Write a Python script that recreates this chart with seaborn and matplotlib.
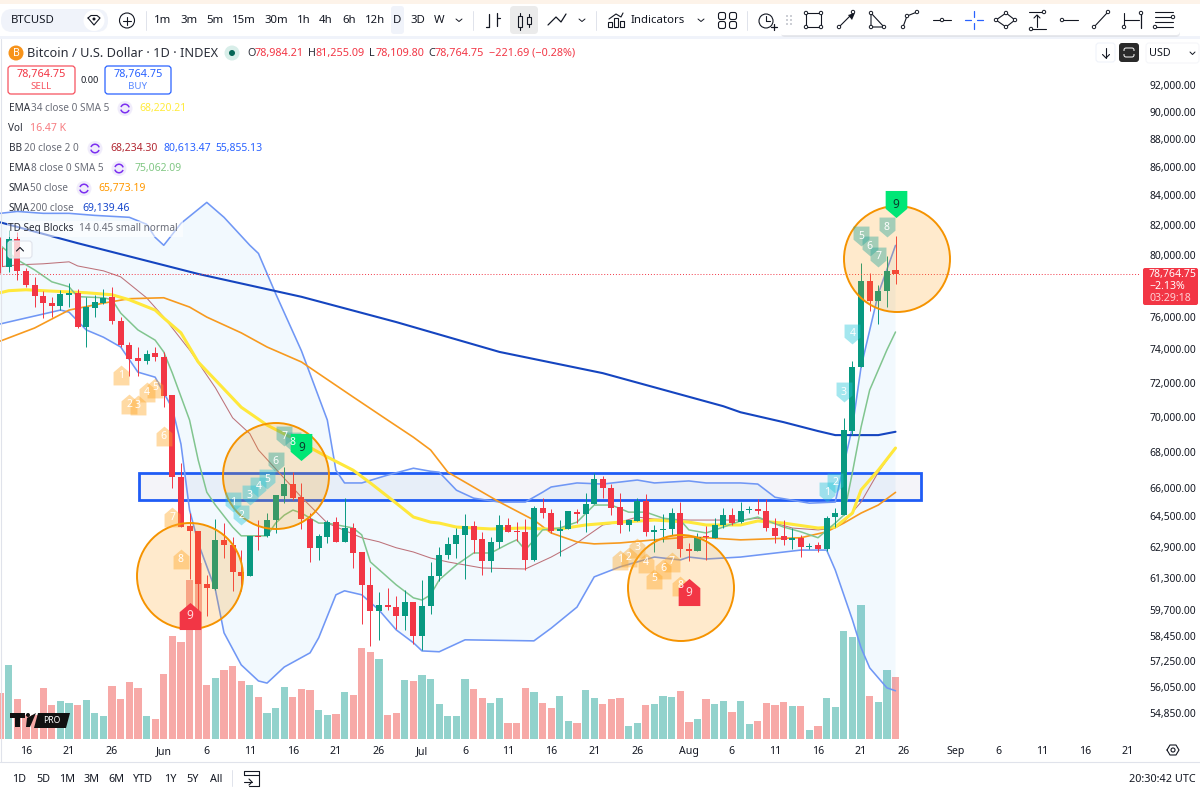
import numpy as np
import pandas as pd
import matplotlib
matplotlib.use("Agg")
import matplotlib.pyplot as plt
import seaborn as sns
from matplotlib.markers import MarkerStyle
from matplotlib.patches import Arc, Circle, FancyBboxPatch, Rectangle
from matplotlib.path import Path
from matplotlib.ticker import NullLocator

# --- candles, day 0 = May 16 ---
first_day = -3
opens = [80440, 79200, 81020, 78930, 78040, 77340, 76870, 76680, 77400, 77530, 75380, 76550, 76870, 77280, 75750,
         74260, 73470, 73290, 73780, 73530, 71270, 66600, 63970, 63720, 61000, 60750, 63250, 62990, 61600, 61400,
         63460, 63460, 64290, 65570, 66225, 65510, 64340, 62820, 63400, 64180, 63140, 63870, 62620, 60950, 59650,
         59940, 59840, 59410, 60090, 58440, 59890, 61400, 62470, 63040, 63510, 63970, 63300, 62160, 63140, 64030,
         63720, 63670, 62210, 64930, 64660, 63720, 63820, 64710, 64610, 65140, 66495, 66015, 64980, 64030, 64240,
         65300, 63670, 63770, 63820, 64660, 62770, 62670, 63460, 63350, 64030, 64550, 64180, 64840, 64870, 64770,
         63870, 63460, 63250, 63360, 62870, 62990, 62770, 64450, 64550, 69180, 72930, 78300, 76990, 77660, 78984.21]
closes = [79200, 81020, 78930, 78040, 77340, 76870, 76680, 77470, 77530, 75380, 76620, 76930, 77210, 75750, 74260,
          73410, 73290, 73720, 73530, 71210, 66600, 63920, 63720, 61000, 60800, 63250, 62990, 61600, 61400, 63460,
          63400, 64290, 65620, 66225, 65460, 64340, 62820, 63460, 64180, 63140, 63870, 62560, 60950, 59650, 59940,
          59840, 59410, 60090, 58440, 59890, 61400, 62470, 63040, 63510, 63970, 63250, 62160, 63140, 64030, 63670,
          63670, 62210, 64930, 64660, 63720, 63820, 64770, 64610, 65140, 66495, 66015, 64930, 64030, 64290, 65300,
          63670, 63770, 63820, 64660, 62770, 62670, 63400, 63400, 64030, 64550, 64130, 64770, 64870, 64770, 63870,
          63460, 63250, 63360, 62870, 62930, 62770, 64390, 64660, 69240, 72930, 78300, 76990, 77660, 78930, 78764.75]
highs = [81150, 81630, 81480, 79130, 78550, 77660, 77280, 77720, 78170, 77780, 77280, 77400, 77780, 77910, 75990,
         74440, 74140, 73960, 74140, 73840, 71270, 67390, 64660, 63720, 61450, 64340, 64130, 63400, 62720, 63460,
         64290, 64660, 65620, 67145, 66875, 66285, 64660, 63560, 64290, 64450, 65460, 64130, 62620, 61850, 60590,
         60790, 60390, 60690, 60090, 61200, 62110, 62880, 63400, 63870, 64610, 64240, 63670, 63400, 64550, 64390,
         64180, 64340, 65030, 65460, 64870, 64290, 64770, 64870, 65730, 66825, 66665, 66225, 65730, 64290, 65460,
         65680, 64030, 64610, 64930, 65240, 63090, 63610, 63970, 64390, 64930, 64930, 65240, 65030, 65410, 65410,
         64390, 64290, 63870, 63510, 63090, 63140, 64500, 64930, 69920, 73290, 79470, 78810, 78040, 79920, 81255.09]
lows = [78810, 78870, 78360, 77910, 76620, 75930, 75990, 76430, 76620, 75320, 74140, 75990, 76810, 75560, 74140,
        72380, 72380, 73110, 73290, 70550, 66015, 63920, 61250, 59210, 59410, 60700, 62310, 60650, 60650, 61400,
        62720, 63400, 63610, 65190, 65350, 63820, 62110, 62210, 63100, 63140, 63140, 61800, 59020, 57960, 58250,
        59700, 58780, 58730, 58060, 57770, 59510, 61150, 62260, 62310, 61250, 62560, 61450, 61600, 62820, 63670,
        63200, 61700, 62160, 64390, 63610, 62420, 63820, 64130, 63670, 65140, 65460, 64550, 63610, 63720, 64240,
        63460, 62620, 63140, 63510, 62360, 62160, 62670, 62210, 63350, 63870, 64030, 64130, 64660, 64610, 63720,
        63090, 62990, 62770, 62360, 62770, 62620, 62670, 63920, 64540, 68950, 72930, 76370, 75560, 76620, 78109.8]
volumes = [12.1, 19.6, 10.5, 6.4, 6.4, 13.5, 9.0, 10.1, 9.6, 9.0, 10.4, 6.8, 6.1, 14.1, 10.5,
           15.2, 13.5, 6.1, 5.4, 17.3, 27.3, 25.7, 42.2, 46.7, 14.3, 16.1, 18.3, 19.4, 15.4, 14.3,
           11.2, 6.8, 8.1, 13.9, 11.2, 13.2, 13.0, 7.7, 6.4, 6.6, 12.6, 11.7, 24.1, 23.0, 21.2,
           6.5, 6.8, 15.7, 15.4, 17.0, 15.8, 9.2, 6.1, 6.1, 15.8, 13.2, 10.8, 9.5, 10.8, 4.2,
           4.2, 13.6, 12.6, 9.5, 8.3, 11.4, 4.8, 4.2, 13.0, 11.0, 9.2, 10.5, 10.8, 3.5, 4.3,
           9.0, 9.3, 11.4, 11.2, 12.7, 4.5, 5.2, 10.5, 9.2, 10.1, 7.3, 10.1, 3.9, 4.8, 9.6,
           9.0, 9.9, 8.8, 8.8, 2.3, 3.5, 10.8, 8.5, 28.8, 27.0, 35.6, 11.4, 9.9, 18.3, 16.47]

# --- indicator lines, read at their visible turning points ---
sma200_days = [-3, 6, 20, 32, 43, 55, 67, 81, 83, 88, 92, 94, 99, 101]
sma200_vals = [82160, 80760, 78740, 77270, 75680, 73840, 72560, 70610, 70260, 69690, 69180, 68950, 68950, 69139.46]
upper_days = [-3, -1, 2, 5, 8, 12, 14, 15, 16, 18, 21, 23, 26, 27, 29, 32, 35, 36, 37, 39, 42, 45, 47, 48, 50,
              52, 55, 58, 60, 61, 64, 67, 71, 73, 77, 79, 83, 85, 87, 91, 94, 96, 97, 99, 101]
upper_vals = [82770, 82900, 82770, 82770, 82630, 82500, 82030, 81150, 80620, 82090, 83520, 82500, 80620, 80080,
              77470, 73900, 69810, 66985, 66285, 66285, 66715, 67095, 66925, 66875, 65890, 65460, 65250, 65250,
              65780, 66065, 66285, 66225, 66445, 66285, 66395, 66285, 66285, 66225, 65510, 65190, 65250, 69410,
              72930, 77470, 80613.47]
lower_days = [-3, -1, 4, 5, 7, 9, 11, 13, 15, 17, 18, 19, 20, 22, 23, 25, 27, 28, 30, 33, 34, 36, 37, 39, 41,
              43, 45, 46, 48, 51, 59, 61, 64, 66, 69, 73, 76, 77, 79, 83, 90, 93, 94, 96, 97, 98, 100, 101]
lower_vals = [75560, 75810, 76430, 76300, 75190, 74740, 74140, 72620, 72320, 70490, 68440, 64820, 63090, 60700,
              58590, 57060, 56310, 56210, 56960, 57630, 58350, 60450, 60650, 60450, 59700, 58730, 58110, 57720,
              57680, 58250, 58200, 58810, 59840, 61350, 61860, 62360, 62210, 62360, 62260, 62360, 62720, 62720,
              61700, 59210, 57870, 56920, 55990, 55855.13]
basis_days = [-3, -1, 2, 5, 6, 9, 11, 14, 16, 19, 22, 24, 26, 27, 32, 35, 39, 41, 43, 45, 47, 49, 53, 58, 61,
              64, 67, 69, 71, 73, 77, 83, 85, 89, 92, 94, 95, 97, 99, 101]
basis_vals = [79200, 79330, 79400, 79530, 79260, 78940, 78550, 77210, 75990, 73960, 71690, 69940, 69030, 68110,
              65510, 64130, 63360, 63150, 62840, 62620, 62310, 62110, 61800, 61750, 62360, 63090, 64030, 64180,
              64450, 64340, 64290, 64290, 64390, 63870, 63770, 63870, 64180, 65250, 66875, 68234.30]
ema8_days = [-3, -1, 1, 3, 5, 6, 9, 10, 11, 13, 15, 16, 17, 19, 20, 21, 22, 24, 25, 28, 29, 30, 31, 32, 34, 35,
             38, 39, 40, 43, 45, 46, 47, 48, 50, 52, 54, 56, 57, 58, 60, 62, 64, 66, 68, 70, 72, 74, 76, 77, 79,
             81, 83, 85, 88, 90, 92, 94, 95, 96, 97, 98, 100, 101]
ema8_vals = [80620, 79660, 79000, 78230, 77910, 77280, 77210, 77080, 76240, 75190, 74560, 73840, 72560, 69810,
             67550, 65780, 65090, 63920, 63460, 63460, 64130, 64550, 64820, 64660, 64130, 64130, 63870, 63510,
             62110, 60950, 60300, 60190, 60450, 61200, 61960, 62570, 62570, 63040, 63250, 62720, 63770, 63870,
             64180, 65090, 65090, 64710, 64710, 64390, 64290, 63770, 63610, 63920, 64240, 64450, 63920, 63670,
             63360, 64130, 64550, 66875, 69410, 71560, 73960, 75062.09]
ema34_days = [-3, -2, 0, 2, 7, 10, 12, 15, 16, 18, 20, 22, 25, 28, 31, 35, 38, 40, 43, 45, 47, 48, 50, 54, 58,
              60, 62, 65, 69, 73, 77, 79, 83, 85, 88, 92, 94, 96, 97, 99, 101]
ema34_vals = [77530, 77660, 77720, 77660, 77530, 77400, 77080, 76430, 75930, 75010, 73230, 72150, 70550, 69520,
              68770, 67720, 66985, 66285, 65190, 64450, 64180, 64130, 63920, 63820, 63870, 63820, 63820, 64030,
              64180, 64290, 64180, 64030, 64030, 64240, 64130, 63870, 63920, 64660, 65905, 66985, 68220.21]
sma50_days = [-3, 1, 5, 9, 12, 16, 19, 21, 25, 28, 32, 38, 42, 45, 47, 49, 55, 59, 61, 64, 66, 69, 73, 77, 79,
              83, 90, 93, 95, 97, 99, 101]
sma50_vals = [74500, 75310, 76430, 76870, 77150, 77210, 76620, 75990, 75010, 74140, 73230, 71150, 69810, 68830,
              68110, 66875, 65250, 64290, 63610, 63140, 63040, 63090, 63250, 63400, 63360, 63250, 63360, 63670,
              64130, 64660, 65090, 65773.19]

# --- TD sequential counts: 1..9 at each day ---
td_buy1_days = [11, 12, 13, 14, 15, 16, 17, 18, 19]
td_buy1_vals = [72440, 70730, 70670, 71440, 71690, 68880, 64450, 62260, 59410]
td_sell1_days = [24, 25, 26, 27, 28, 29, 30, 31, 32]
td_sell1_vals = [65250, 64550, 65620, 66065, 66495, 67440, 68880, 68550, 68270]
td_buy2_days = [69, 70, 71, 72, 73, 74, 75, 76, 77]
td_buy2_vals = [62210, 62360, 62840, 62060, 61250, 61750, 62110, 60900, 60590]
td_sell2_days = [93, 94, 95, 96, 97, 98, 99, 100, 101]
td_sell2_vals = [65780, 66285, 71440, 74950, 81210, 80540, 79850, 81820, 83390]

# support box
zone_days = [13.09, 103.98]
zone_prices = [65380, 66820]

price_ticks = [92000, 90000, 88000, 86000, 84000, 82000, 80000, 76000, 74000, 72000, 70000, 68000, 66000, 64500,
               62900, 61300, 59700, 58450, 57250, 56050, 54850]
time_ticks = [0, 5, 10, 16, 21, 26, 31, 36, 41, 46, 51, 56, 61, 66, 71, 77, 82, 87, 92, 97, 102, 108, 113, 118,
              123, 128]
time_labels = ["16", "21", "26", "Jun", "6", "11", "16", "21", "26", "Jul", "6", "11", "16", "21", "26", "Aug",
               "6", "11", "16", "21", "26", "Sep", "6", "11", "16", "21"]

UP = "#089981"
DOWN = "#f23645"
INK = "#131722"
GREY = "#6a6d78"
W, H = 1200, 788

sns.set_theme(style="white")
plt.rcParams["font.family"] = ["Noto Sans", "DejaVu Sans"]

fig = plt.figure(figsize=(12, 7.88), dpi=100, facecolor="white")
days = np.arange(first_day, first_day + len(opens))
o, c, hi, lo = map(np.array, (opens, closes, highs, lows))
rising = c >= o
x_lim = (-3.02, 129.4)


def px_rect(left, top, right, bottom):
    return [left / W, 1 - bottom / H, (right - left) / W, (bottom - top) / H]


# volume pane sits under the prices
ax_vol = fig.add_axes(px_rect(0, 60, 1140, 739), zorder=1)
df_vol = pd.DataFrame({"day": days, "volume": volumes, "dir": np.where(rising, "up", "down")})
sns.barplot(data=df_vol, x="day", y="volume", hue="dir", palette={"up": "#92d2cc", "down": "#f7a9a7"},
            native_scale=True, dodge=False, legend=False, saturation=1, linewidth=0, ax=ax_vol)
# hue groups come out thin with native_scale, so set the width back
for bar in ax_vol.patches:
    mid = bar.get_x() + bar.get_width() / 2
    bar.set_x(mid - 0.42)
    bar.set_width(0.84)
    bar.set_linewidth(0)
ax_vol.set_xlim(*x_lim)
ax_vol.set_ylim(0, 180.3)
ax_vol.set_xticks(time_ticks)
ax_vol.set_xticklabels(time_labels, fontsize=7.6, color=INK)
for lab, txt in zip(ax_vol.get_xticklabels(), time_labels):
    if txt in ("Jun", "Jul", "Aug", "Sep"):
        lab.set_fontweight("bold")
ax_vol.tick_params(axis="x", length=0, pad=5)
ax_vol.set_yticks([])
ax_vol.set_xlabel("")
ax_vol.set_ylabel("")
sns.despine(ax=ax_vol, left=True, bottom=True)

# price pane
ax = fig.add_axes(px_rect(0, 60, 1140, 740), zorder=2)
ax.patch.set_alpha(0)
ax.set_yscale("log")
ax.set_xlim(*x_lim)
ax.set_ylim(53636, 93914)

ax.fill(np.r_[upper_days, lower_days[::-1]], np.r_[upper_vals, lower_vals[::-1]],
        color="#2196f3", alpha=0.055, lw=0, zorder=1)

ax.add_patch(Rectangle((zone_days[0], zone_prices[0]), zone_days[1] - zone_days[0], zone_prices[1] - zone_prices[0],
                       fc=(0.16, 0.2, 0.6, 0.05), ec="#1f5cf5", lw=2.0, zorder=2))

line_specs = [
    (basis_days, basis_vals, "#bd727a", 0.75),
    (upper_days, upper_vals, "#7097f5", 1.15),
    (lower_days, lower_vals, "#7097f5", 1.15),
    (sma200_days, sma200_vals, "#1545c0", 1.5),
    (sma50_days, sma50_vals, "#f79a1f", 1.2),
    (ema34_days, ema34_vals, "#ffe83b", 2.2),
    (ema8_days, ema8_vals, "#81c58f", 1.1),
]
for xs, ys, col, lw in line_specs:
    sns.lineplot(x=xs, y=ys, color=col, linewidth=lw, estimator=None, ax=ax, zorder=3)

colors = np.where(rising, UP, DOWN)
ax.vlines(days, lo, hi, colors=colors, lw=0.7, zorder=4)
ax.bar(days, np.abs(c - o), bottom=np.minimum(o, c), width=0.7, color=colors, lw=0, zorder=5)
ax.axhline(closes[-1], color=DOWN, ls=(0, (1, 2)), lw=0.7, zorder=4)

house_up = Path([(-1, -1.25), (1, -1.25), (1, 0.4), (0, 1.25), (-1, 0.4), (-1, -1.25)], closed=True)
house_dn = Path([(-1, 1.25), (1, 1.25), (1, -0.4), (0, -1.25), (-1, -0.4), (-1, 1.25)], closed=True)
TD_ORANGE = "#ffa726"
TD_CYAN = "#26c6da"
TD_TEAL = "#26a69a"


def td_counts(xs, ys, house, cols, last_col, last_txt):
    for i, (xv, yv) in enumerate(zip(xs, ys)):
        last = i == 8
        ax.scatter(xv, yv, s=380 if last else 205, marker=MarkerStyle(house), lw=0, zorder=6,
                   color=last_col if last else cols[i], alpha=1 if last else 0.42)
        ax.text(xv, yv, str(i + 1), ha="center", va="center", zorder=7, fontsize=8.5 if last else 7.5,
                color=last_txt if last else "white")


td_counts(td_buy1_days, td_buy1_vals, house_up, [TD_ORANGE] * 8, DOWN, "#ffd9dc")
td_counts(td_sell1_days, td_sell1_vals, house_dn, [TD_CYAN] * 5 + [TD_TEAL] * 3, "#00e676", "#0b3d2e")
td_counts(td_buy2_days, td_buy2_vals, house_up, [TD_ORANGE] * 8, DOWN, "#ffd9dc")
td_counts(td_sell2_days, td_sell2_vals, house_dn, [TD_CYAN] * 4 + [TD_TEAL] * 4, "#00e676", "#0b3d2e")

ax.yaxis.tick_right()
ax.set_yticks(price_ticks)
ax.set_yticklabels([f"{p:,.2f}" for p in price_ticks], fontsize=7.4, color=INK)
ax.yaxis.set_minor_locator(NullLocator())
ax.tick_params(axis="y", which="both", length=0, pad=7)
ax.set_xticks([])
ax.set_xlabel("")
ax.set_ylabel("")
for s in ax.spines.values():
    s.set_visible(False)

# everything drawn on top of the panes lives in pixel coordinates
ui = fig.add_axes([0, 0, 1, 1], zorder=3)
ui.set_xlim(0, W)
ui.set_ylim(H, 0)
ui.axis("off")
ui.patch.set_alpha(0)

# circles sit over the candles but under the count markers
for cx, cy in [(190, 576), (276, 476), (681, 588), (897, 259)]:
    ax.add_patch(Circle((cx, cy), 53, fc=(1, 0.6, 0, 0.2), ec="#f59300", lw=1.4,
                        transform=ui.transData, zorder=5.5, clip_on=False))


def text(x, y, s, size=7.6, color=INK, ha="left", **kw):
    ui.text(x, y, s, fontsize=size, color=color, ha=ha, va="center", **kw)


def line(pts, lw=0.9, color=INK, **kw):
    xs, ys = zip(*pts)
    ui.plot(xs, ys, color=color, lw=lw, solid_capstyle="round", **kw)


def node(x, y, r=1.7, color=INK):
    ui.add_patch(Circle((x, y), r, fc="white", ec=color, lw=0.7, zorder=5))


def box(x0, y0, x1, y1, r=3, fc="white", ec="none", lw=0.8, **kw):
    ui.add_patch(FancyBboxPatch((x0, y0), x1 - x0, y1 - y0, boxstyle=f"round,pad=0,rounding_size={r}",
                                fc=fc, ec=ec, lw=lw, **kw))


# page chrome
ui.add_patch(Rectangle((0, 0), W, 37, fc="white", ec="none"))
ui.add_patch(Rectangle((0, 0), W, 3.5, fc="#fdf3e9", ec="none"))
ui.add_patch(Rectangle((0, 36), W, 3, fc="#f0f3fa", ec="none"))
line([(0, 762), (W, 762)], lw=0.8, color="#e0e3eb")
line([(1, 39), (1, 762)], lw=0.8, color="#e0e3eb")

# top toolbar
box(1, 9, 108, 32, r=11, fc="#f0f3fa")
text(11, 20.5, "BTCUSD", size=8.2, fontweight="bold")
ui.add_patch(Circle((94, 20.5), 10.5, fc="white", ec="none"))
line([(88, 18), (91, 15.5), (97, 15.5), (100, 18), (94, 25), (88, 18)], lw=0.8)
ui.add_patch(Circle((94, 19), 1.5, fc=INK, ec="none"))
ui.add_patch(Circle((127, 20.5), 7.5, fc="none", ec=INK, lw=0.8))
line([(123, 20.5), (131, 20.5)], lw=0.8)
line([(127, 16.5), (127, 24.5)], lw=0.8)
intervals = [("1m", 163), ("3m", 189), ("5m", 215), ("15m", 244), ("30m", 276), ("1h", 304), ("4h", 326),
             ("6h", 349), ("12h", 375), ("3D", 418), ("W", 439)]
for lab, x in intervals:
    text(x, 20.5, lab, size=8.2, ha="center")
box(391, 6, 404, 34, r=3, fc="#f0f3fa")
text(397.5, 20.5, "D", size=8.2, ha="center")
for x in (459, 582, 701):
    line([(x - 3, 19), (x, 21.5), (x + 3, 19)], lw=0.7)
for x in (146, 473, 596, 747):
    line([(x, 11), (x, 30)], lw=0.7, color="#e0e3eb")
line([(489, 27), (489, 14)], lw=0.9)
line([(486, 27), (489, 27)], lw=0.9)
line([(497, 13), (497, 26)], lw=0.9)
line([(497, 18), (500, 18)], lw=0.9)
box(510, 6, 538, 34, r=4, fc="#ebebeb")
for x, y0, y1 in ((520, 16, 27), (529, 17, 24)):
    ui.add_patch(Rectangle((x - 2, y0), 4, y1 - y0, fc="none", ec=INK, lw=0.8))
    line([(x, y0 - 3), (x, y0)], lw=0.8)
    line([(x, y1), (x, y1 + 3)], lw=0.8)
line([(548, 25), (556, 17), (561, 22), (566, 14)], lw=0.9)
for x, h in ((610, 5), (616, 9), (622, 6)):
    ui.add_patch(Rectangle((x - 2, 27 - h), 4, h, fc="none", ec=INK, lw=0.8))
line([(609, 19), (616, 14), (621, 17), (623, 13)], lw=0.8)
text(631, 20.5, "Indicators", size=8.2)
for x, y in ((722, 16), (733, 16), (722, 25), (733, 25)):
    box(x - 3.5, y - 3.5, x + 3.5, y + 3.5, r=2, fc="none", ec=INK)
ui.add_patch(Circle((766, 21), 7, fc="none", ec=INK, lw=0.8))
line([(766, 16), (766, 21), (770, 21)], lw=0.8)
line([(771, 27), (777, 27)], lw=0.9)
line([(774, 24), (774, 30)], lw=0.9)

# floating drawing toolbar
box(781, 7, 1180, 37, r=4, fc="#d8dae0", alpha=0.6)
box(779, 5, 1180, 35, r=4, fc="white")
for x in (787, 791):
    for y in (16, 20, 24):
        ui.add_patch(Circle((x, y), 0.9, fc="#b2b5be", ec="none"))
line([(806, 13), (821, 13), (821, 27), (806, 27), (806, 13)], lw=0.8)
for x, y in ((806, 13), (821, 13), (806, 27), (821, 27)):
    node(x, y)
line([(839, 27), (853, 13)], lw=0.8)
ui.fill([848, 855, 852], [15, 13, 20], color=INK, lw=0)
node(839, 27)
node(853, 12)
line([(871, 13), (871, 27), (884, 27), (871, 13)], lw=0.8)
for x, y in ((871, 13), (871, 27), (884, 27)):
    node(x, y)
line([(903, 27), (907, 16), (917, 12)], lw=0.8)
for x, y in ((903, 27), (907, 16), (917, 12)):
    node(x, y)
line([(933, 20), (951, 20)], lw=0.8)
node(942, 20)
for pts in ([(965, 20), (971, 20)], [(977, 20), (983, 20)], [(974, 11), (974, 17)], [(974, 23), (974, 29)]):
    line(pts, lw=0.9, color="#2962ff")
line([(996, 20), (1006, 13), (1015, 20), (1006, 27), (996, 20)], lw=0.8)
for x, y in ((996, 20), (1006, 13), (1015, 20), (1006, 27)):
    node(x, y)
line([(1029, 12), (1044, 12)], lw=0.8)
line([(1031, 29), (1046, 29)], lw=0.8)
line([(1037, 15), (1037, 27)], lw=0.8)
line([(1034, 18), (1037, 15), (1040, 18)], lw=0.8)
node(1044, 12)
node(1031, 29)
line([(1062, 20), (1078, 20)], lw=0.8)
node(1062, 20)
line([(1094, 27), (1107, 13)], lw=0.8)
node(1094, 27)
node(1108, 12)
line([(1124, 13), (1124, 27)], lw=0.8)
line([(1141, 13), (1141, 28)], lw=0.9)
line([(1124, 20), (1139, 20)], lw=0.8)
node(1124, 27)
node(1141, 13)
for y in (12, 17, 22, 27):
    line([(1155, y), (1173, y)], lw=0.8)
node(1173, 17)
node(1155, 27)

# right-hand buttons
box(1096, 43, 1115, 62, r=3, fc="white", ec="#f0f3fa")
line([(1106, 48), (1106, 58)], lw=0.8)
line([(1102.5, 54.5), (1106, 58), (1109.5, 54.5)], lw=0.8)
box(1119, 43, 1139, 62, r=3, fc="#2a2a2a")
box(1124, 48, 1134, 57, r=2, fc="none", ec="white", lw=0.7)
ui.add_patch(Rectangle((1122, 51), 14, 3, fc="#2a2a2a", ec="none", zorder=4))
box(1146, 43, 1199, 63, r=3, fc="white", ec="#f5f6f9")
text(1149, 53, "USD", size=7.8)
line([(1190, 52), (1192.5, 54.5), (1195, 52)], lw=0.7)

# header row
ui.add_patch(Circle((16, 53), 7.5, fc="#f7931a", ec="none"))
text(16, 53, "B", size=7.5, color="white", ha="center", fontweight="bold")
text(27, 53, "Bitcoin / U.S. Dollar · 1D · INDEX", size=9.2, color="#2a2e39")
ui.add_patch(Circle((232, 53), 7.5, fc="#d8eee9", ec="none"))
ui.add_patch(Circle((232, 53), 3, fc="#056656", ec="none"))
ohlc_labels = ["O", "H", "L", "C"]
ohlc_text = ["78,984.21", "81,255.09", "78,109.80", "78,764.75"]
for lab, val, x0, x1 in zip(ohlc_labels, ohlc_text, (247, 308, 369, 428), (255, 316, 376, 435)):
    text(x0, 53, lab, size=7.8, color="#2a2e39")
    text(x1, 53, val, size=7.8, color=DOWN)
text(489, 53, "−221.69 (−0.28%)", size=7.8, color=DOWN)

# sell / buy
box(8, 66, 75, 94, r=3, fc="white", ec="#f7525f", lw=0.9)
text(41.5, 74, "78,764.75", size=7.8, color=DOWN, ha="center")
text(41.5, 86.5, "SELL", size=7, color="#f7525f", ha="center")
text(90, 80, "0.00", size=6.6, color=INK, ha="center")
box(105, 66, 171, 94, r=3, fc="white", ec="#2962ff", lw=0.9)
text(138, 74, "78,764.75", size=7.8, color="#2962ff", ha="center")
text(138, 86.5, "BUY", size=7, color="#5b8aff", ha="center")


def refresh(x, y):
    ui.add_patch(Circle((x, y), 7.5, fc="#f0ecfb", ec="none"))
    ui.add_patch(Arc((x, y), 8.5, 8.5, theta1=20, theta2=165, ec="#7b2ff0", lw=1.1))
    ui.add_patch(Arc((x, y), 8.5, 8.5, theta1=200, theta2=345, ec="#7b2ff0", lw=1.1))


# indicator legend
rows = [
    (108.5, "EMA", 31, "34 close 0 SMA 5", 125, [("68,220.21", 139, "#ffeb3b")]),
    (128.5, "Vol", None, "", None, [("16.47 K", 30, "#f77c80")]),
    (148.5, "BB", 23.5, "20 close 2 0", 95, [("68,234.30", 110, "#b22833"), ("80,613.47", 163, "#2962ff"),
                                             ("55,855.13", 215, "#2962ff")]),
    (168.5, "EMA", 31, "8 close 0 SMA 5", 119, [("75,062.09", 134, "#81c784")]),
    (188.5, "SMA", 30, "50 close", 84, [("65,773.19", 98, "#ff9800")]),
    (208.5, "SMA", 30, "200 close", None, [("69,139.46", 82, "#1848cc")]),
]
for y, name, x_rest, rest, x_icon, values in rows:
    text(8.5, y, name, size=7.2, color="#2a2e39")
    if rest:
        text(x_rest, y, rest, size=7.2, color=GREY)
    if x_icon:
        refresh(x_icon, y)
    for val, xv, col in values:
        text(xv, y, val, size=7.5, color=col)
ui.add_patch(Rectangle((7, 221), 176, 16, fc="white", ec="none", alpha=0.55))
text(8.5, 228.5, "TD Seq Blocks", size=7.2, color="#2a2e39")
text(79, 228.5, "14 0.45 small normal", size=7.2, color=GREY)
box(8, 241, 32, 258, r=3, fc=(1, 1, 1, 0.75), ec="#e0e3eb")
line([(16.5, 251), (20, 247.5), (23.5, 251)], lw=0.8)

# last price tag
box(1143, 268, 1198, 305, r=2, fc=DOWN)
text(1149, 275, "78,764.75", size=7.6, color="white", fontweight="bold")
text(1149, 286, "−2.13%", size=7.6, color="white", fontweight="bold")
text(1149, 298, "03:29:18", size=7.6, color="#ffd0d4")

# TV pro badge
ui.fill([38, 70, 66, 34], [713, 713, 728, 728], color="#111111", lw=0)
ui.fill([10, 25, 25, 20, 20, 15, 15, 10], [713, 713, 718, 718, 727, 727, 718, 718], color="#111111", lw=0)
ui.fill([27, 36, 30, 26], [718, 713, 727, 727], color="#111111", lw=0)
ui.add_patch(Circle((28, 715), 2, fc="#111111", ec="none"))
text(52, 720.5, "PRO", size=6.2, color="white", ha="center", fontweight="bold")

# bottom row
ranges = ["1D", "5D", "1M", "3M", "6M", "YTD", "1Y", "5Y", "All"]
range_x = [19, 43, 67, 91, 116, 143, 170, 193, 216]
for lab, x in zip(ranges, range_x):
    text(x, 779, lab, size=7.8, ha="center")
line([(232, 770), (232, 786)], lw=0.7, color="#e0e3eb")
line([(244, 775), (244, 771), (259, 771), (259, 786), (249, 786)], lw=0.8)
line([(244, 774.5), (259, 774.5)], lw=0.8)
line([(244, 782), (252, 782)], lw=0.8)
line([(249, 779), (252, 782), (249, 785)], lw=0.8)
text(1196, 779, "20:30:42 UTC", size=7.8, ha="right")
gear = [(1167, 750), (1170, 745), (1176, 745), (1179, 750), (1176, 755), (1170, 755), (1167, 750)]
line(gear, lw=0.8)
ui.add_patch(Circle((1173, 750), 2, fc="none", ec=INK, lw=0.8))

fig.savefig("out.png", dpi=100, facecolor="white")
